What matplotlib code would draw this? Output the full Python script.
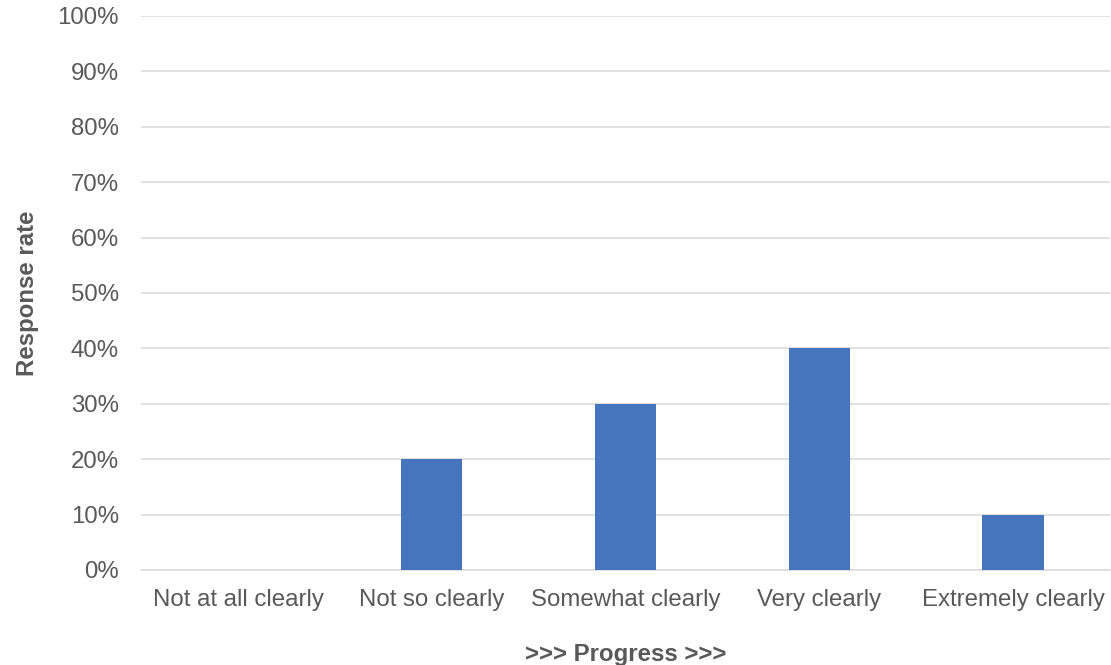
import matplotlib
matplotlib.use("Agg")
import matplotlib.pyplot as plt
from matplotlib.ticker import PercentFormatter

plt.rcParams["font.family"] = ["Liberation Sans", "DejaVu Sans"]

# Survey responses per answer option
categories = ["Not at all clearly", "Not so clearly", "Somewhat clearly",
              "Very clearly", "Extremely clearly"]
response_rate = [0, 20, 30, 40, 10]
y_ticks = list(range(0, 101, 10))

TEXT = "#595959"
BAR = "#4775BD"
GRID = "#D9D9D9"
FS = 17.3

fig = plt.figure(figsize=(11.11, 6.65), dpi=100)
ax = fig.add_axes([0.127, 0.143, 0.872, 0.833])

x = range(len(categories))
ax.bar(x, response_rate, width=0.315, color=BAR, zorder=3)

ax.set_xlim(-0.5, len(categories) - 0.5)
ax.set_ylim(0, 100)
ax.set_yticks(y_ticks)
ax.yaxis.set_major_formatter(PercentFormatter(decimals=0))
ax.set_xticks(list(x))
ax.set_xticklabels(categories)

ax.grid(axis="y", color=GRID, linewidth=1.1, zorder=0)
ax.set_axisbelow(True)
for side in ("top", "right", "left"):
    ax.spines[side].set_visible(False)
ax.spines["bottom"].set_color(GRID)
ax.spines["bottom"].set_linewidth(1.1)

ax.tick_params(axis="both", length=0, labelsize=FS, labelcolor=TEXT)
ax.tick_params(axis="y", pad=16)
ax.tick_params(axis="x", pad=13.5)

ax.set_ylabel("Response rate", fontsize=FS, fontweight="bold", color=TEXT, labelpad=13)
ax.set_xlabel(">>> Progress >>>", fontsize=FS, fontweight="bold", color=TEXT, labelpad=23)

fig.savefig("out.png", dpi=100, facecolor="white")
plt.close(fig)
